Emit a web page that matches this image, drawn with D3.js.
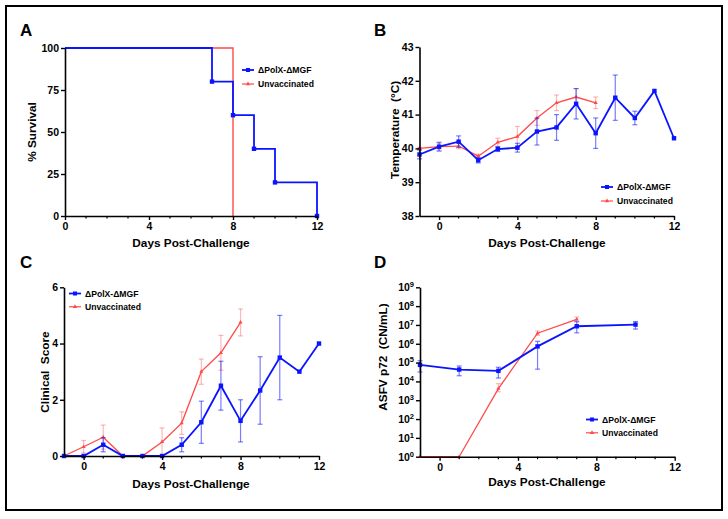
<!DOCTYPE html>
<html><head><meta charset="utf-8">
<script src="https://cdn.jsdelivr.net/npm/d3@7"></script>
<style>body{margin:0;background:#fff}svg{display:block}text{font-family:"Liberation Sans",Arial,sans-serif;font-weight:bold}</style>
</head><body><svg id="c" width="728" height="519"></svg>
<script>
const BLUE = "#0a14ff", RED = "#ff4a4a";
const seriesNames = ["ΔPolX-ΔMGF", "Unvaccinated"];
// Panel A: survival
const survDaysVac = [0, 7, 8, 9, 10, 12];
const survVac = [100, 80, 60, 40, 20, 0];
const survDaysUnv = [0, 8];
const survUnv = [100, 0];
// Panel B: temperature
const tempDaysVac = [-1,0,1,2,3,4,5,6,7,8,9,10,11,12];
const tempVac = [39.82,40.05,40.2,39.65,39.98,40.02,40.5,40.62,41.32,40.45,41.5,40.9,41.7,40.3];
const tempVacErr = [0.13,0.13,0.17,0.08,0.07,0.13,0.4,0.38,0.45,0.45,0.67,0.2,0,0];
const tempDaysUnv = [-1,0,1,2,3,4,5,6,7,8];
const tempUnv = [40.0,40.05,40.07,39.77,40.18,40.35,40.9,41.35,41.52,41.35];
const tempUnvErr = [0.03,0.1,0.08,0.06,0.12,0.3,0.22,0.23,0.25,0.17];
// Panel C: clinical score
const clinDaysVac = [-1,0,1,2,3,4,5,6,7,8,9,10,11,12];
const clinVac = [0,0,0.4,0,0,0,0.4,1.2,2.5,1.25,2.33,3.5,3.0,4.0];
const clinVacErr = [0,0,0.25,0,0,0,0.25,0.75,0.87,0.75,1.2,1.5,0,0];
const clinDaysUnv = [-1,0,1,2,3,4,5,6,7,8];
const clinUnv = [0,0.33,0.67,0,0,0.5,1.17,3.0,3.67,4.75];
const clinUnvErr = [0,0.22,0.43,0,0,0.5,0.4,0.45,0.62,0.48];
// Panel D: ASFV p72 (log10 of CN/mL) with lower/upper bounds
const pcrDaysVac = [-1,1,3,5,7,10];
const pcrVac = [4.88,4.63,4.56,5.86,6.93,7.02];
const pcrVacLo = [4.5,4.3,4.18,4.65,6.58,6.78];
const pcrVacHi = [5.1,4.82,4.75,6.13,7.17,7.18];
const pcrDaysUnv = [-1,1,3,5,7];
const pcrUnv = [0,0,3.62,6.56,7.3];
const pcrUnvLo = [0,0,3.45,6.45,7.2];
const pcrUnvHi = [0,0,3.88,6.68,7.42];
const xMajor = [0,4,8,12];

const svg = d3.select("#c");
svg.append("rect").attr("x",6).attr("y",6).attr("width",716).attr("height",504)
  .attr("fill","none").attr("stroke","#000").attr("stroke-width",2);

function xAxis(g, x, yPix, minorFrom) {
  const ax = g.append("g").attr("transform",`translate(0,${yPix})`);
  ax.call(d3.axisBottom(x).tickValues(xMajor).tickSize(4).tickSizeOuter(0).tickPadding(3));
  ax.select(".domain").attr("stroke-width",1.6);
  ax.selectAll(".tick line").attr("stroke-width",1.4);
  ax.selectAll("text").attr("font-size",10.5).attr("fill","#000");
  const minor = d3.range(minorFrom, 13).filter(d => !xMajor.includes(d));
  ax.selectAll(".mn").data(minor).enter().append("line")
    .attr("x1",d=>x(d)).attr("x2",d=>x(d)).attr("y1",0).attr("y2",2.5)
    .attr("stroke","#000").attr("stroke-width",1.2);
}
function yAxis(g, y, xPix, ticks, fmt) {
  const ax = g.append("g").attr("transform",`translate(${xPix},0)`);
  ax.call(d3.axisLeft(y).tickValues(ticks).tickSize(4).tickSizeOuter(0).tickPadding(2).tickFormat(fmt||d3.format("d")));
  ax.select(".domain").attr("stroke-width",1.6);
  ax.selectAll(".tick line").attr("stroke-width",1.4);
  ax.selectAll("text").attr("font-size",10.5).attr("fill","#000");
  return ax;
}
function labels(letter, lx, ly, xlab, xx, xy, ylab, yx, yy) {
  svg.append("text").attr("x",lx).attr("y",ly).attr("font-size",17).text(letter);
  svg.append("text").attr("x",xx).attr("y",xy).attr("text-anchor","middle").attr("font-size",11.8).text(xlab);
  svg.append("text").attr("transform",`translate(${yx},${yy}) rotate(-90)`).attr("text-anchor","middle").attr("font-size",11.8).attr("xml:space","preserve").text(ylab);
}
function legend(x0, y0, dy) {
  [BLUE, RED].forEach((c,i) => {
    const yy = y0 + i*dy;
    svg.append("line").attr("x1",x0).attr("x2",x0+12).attr("y1",yy).attr("y2",yy)
      .attr("stroke",c).attr("stroke-width",i?1.2:1.8);
    if (i===0) svg.append("rect").attr("x",x0+4).attr("y",yy-2).attr("width",4).attr("height",4).attr("fill",c);
    else svg.append("path").attr("d",d3.symbol(d3.symbolTriangle,8)()).attr("transform",`translate(${x0+6},${yy})`).attr("fill",c);
    svg.append("text").attr("x",x0+16).attr("y",yy+3).attr("font-size",8.6).text(seriesNames[i]);
  });
}
function series(g, x, y, days, vals, lo, hi, color, vac) {
  const pts = days.map((d,i)=>({d, v:vals[i], lo:lo[i], hi:hi[i]}));
  const eb = g.append("g").attr("stroke",color).attr("stroke-opacity",vac?0.55:0.4).attr("stroke-width",1.2);
  pts.filter(p=>p.hi>p.lo).forEach(p=>{
    const px=x(p.d);
    eb.append("line").attr("x1",px).attr("x2",px).attr("y1",y(p.lo)).attr("y2",y(p.hi));
    eb.append("line").attr("x1",px-2.5).attr("x2",px+2.5).attr("y1",y(p.lo)).attr("y2",y(p.lo));
    eb.append("line").attr("x1",px-2.5).attr("x2",px+2.5).attr("y1",y(p.hi)).attr("y2",y(p.hi));
  });
  g.append("path").datum(pts).attr("fill","none").attr("stroke",color).attr("stroke-width",vac?1.8:1.3)
    .attr("d",d3.line().x(p=>x(p.d)).y(p=>y(p.v)));
  if (vac) g.selectAll(null).data(pts).enter().append("rect")
    .attr("x",p=>x(p.d)-2.2).attr("y",p=>y(p.v)-2.2).attr("width",4.4).attr("height",4.4).attr("fill",color);
  else g.selectAll(null).data(pts).enter().append("path")
    .attr("d",d3.symbol(d3.symbolTriangle,7)()).attr("transform",p=>`translate(${x(p.d)},${y(p.v)})`).attr("fill",color);
}

// ---- Panel A
{
  const g = svg.append("g");
  const x = d3.scaleLinear().domain([0,12]).range([65,317]);
  const y = d3.scaleLinear().domain([0,100]).range([216,48]);
  const stepLine = d3.line().x(p=>x(p[0])).y(p=>y(p[1])).curve(d3.curveStepAfter);
  g.append("path").datum(survDaysUnv.map((d,i)=>[d,survUnv[i]])).attr("fill","none").attr("stroke",RED).attr("stroke-width",1.4).attr("d",stepLine);
  g.append("path").datum(survDaysVac.map((d,i)=>[d,survVac[i]])).attr("fill","none").attr("stroke",BLUE).attr("stroke-width",1.8).attr("d",stepLine);
  g.selectAll(null).data(survDaysVac.slice(1).map((d,i)=>[d,survVac[i+1]])).enter().append("rect")
    .attr("x",p=>x(p[0])-2.2).attr("y",p=>y(p[1])-2.2).attr("width",4.4).attr("height",4.4).attr("fill",BLUE);
  xAxis(g, x, 216, 1);
  yAxis(g, y, 65, [0,25,50,75,100]);
  labels("A", 20, 36, "Days Post-Challenge", 191, 247, "% Survival", 36, 132);
  legend(242, 70, 14);
}
// ---- Panel B
{
  const g = svg.append("g");
  const x = d3.scaleLinear().domain([-1,12]).range([419.5,674]);
  const y = d3.scaleLinear().domain([38,43]).range([216,47]);
  series(g, x, y, tempDaysUnv, tempUnv, tempUnv.map((v,i)=>v-tempUnvErr[i]), tempUnv.map((v,i)=>v+tempUnvErr[i]), RED, false);
  series(g, x, y, tempDaysVac, tempVac, tempVac.map((v,i)=>v-tempVacErr[i]), tempVac.map((v,i)=>v+tempVacErr[i]), BLUE, true);
  xAxis(g, x, 216, 1);
  yAxis(g, y, 419.5, [38,39,40,41,42,43]);
  labels("B", 374, 36, "Days Post-Challenge", 547, 247, "Temperature  (°C)", 399, 130);
  legend(601, 187, 14);
}
// ---- Panel C
{
  const g = svg.append("g");
  const x = d3.scaleLinear().domain([-1,12]).range([64,319]);
  const y = d3.scaleLinear().domain([0,6]).range([456,287.3]);
  series(g, x, y, clinDaysUnv, clinUnv, clinUnv.map((v,i)=>Math.max(0,v-clinUnvErr[i])), clinUnv.map((v,i)=>v+clinUnvErr[i]), RED, false);
  series(g, x, y, clinDaysVac, clinVac, clinVac.map((v,i)=>Math.max(0,v-clinVacErr[i])), clinVac.map((v,i)=>v+clinVacErr[i]), BLUE, true);
  xAxis(g, x, 456, 1);
  yAxis(g, y, 64, [0,2,4,6]);
  labels("C", 20, 268, "Days Post-Challenge", 191, 488, "Clinical  Score", 49, 372);
  legend(69, 293.5, 13.3);
}
// ---- Panel D
{
  const g = svg.append("g");
  const x = d3.scaleLinear().domain([-1,12]).range([420,674.7]);
  const y = d3.scaleLinear().domain([0,9]).range([456.7,287.3]);
  series(g, x, y, pcrDaysUnv, pcrUnv, pcrUnvLo, pcrUnvHi, RED, false);
  series(g, x, y, pcrDaysVac, pcrVac, pcrVacLo, pcrVacHi, BLUE, true);
  xAxis(g, x, 456.7, 1);
  const ax = yAxis(g, y, 420, d3.range(0,10), d=>"");
  ax.selectAll(".tick text").each(function(d){
    const t = d3.select(this);
    t.append("tspan").text("10");
    t.append("tspan").attr("dy",-4).attr("font-size",7.5).text(d);
  });
  labels("D", 374, 268, "Days Post-Challenge", 547, 486, "ASFV p72  (CN/mL)", 387, 357);
  legend(586, 419.5, 13.3);
}
</script></body></html>
